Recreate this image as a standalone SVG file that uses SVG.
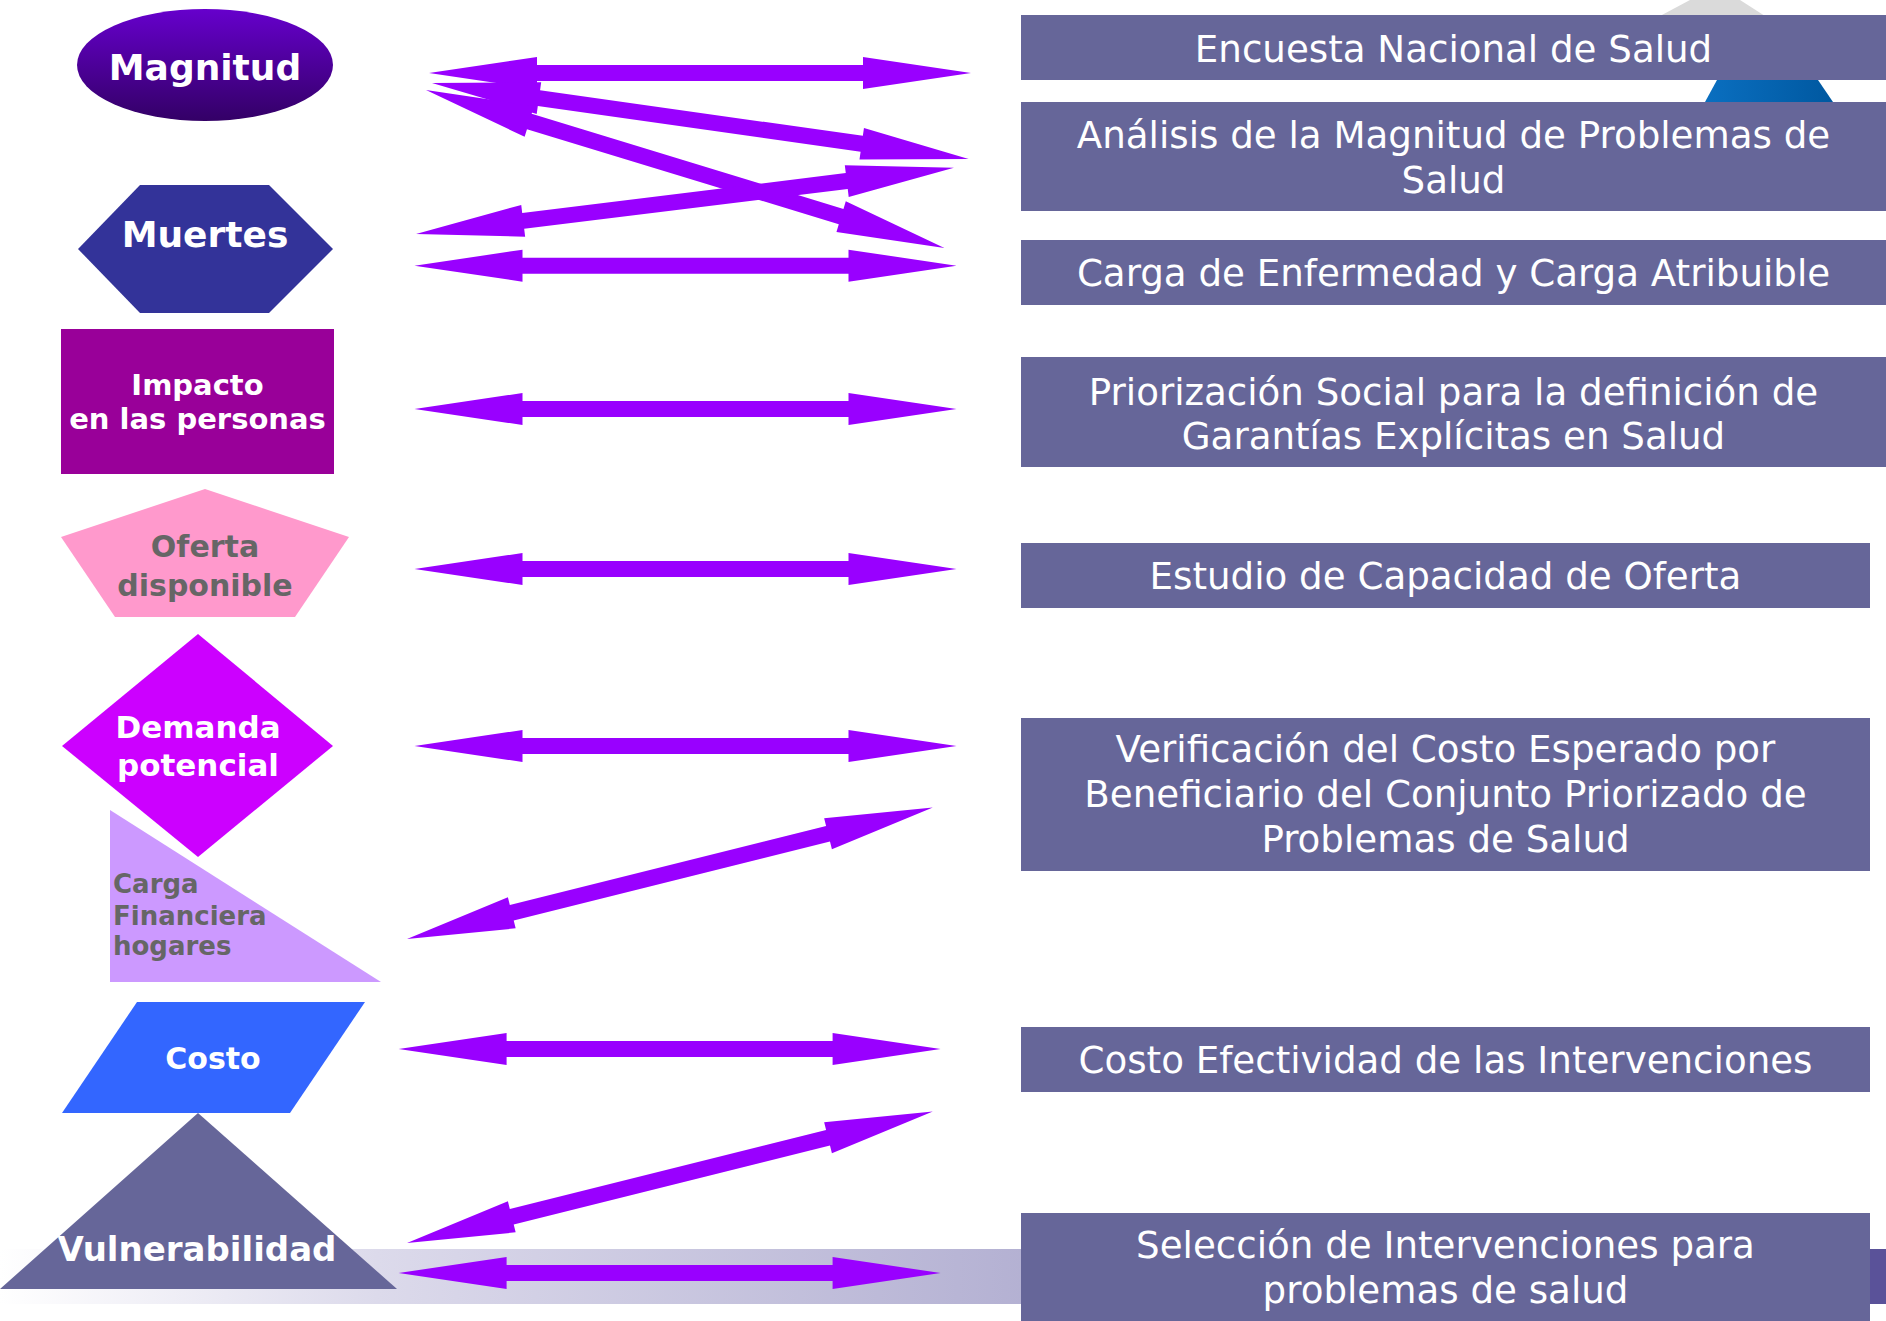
<svg xmlns="http://www.w3.org/2000/svg" xmlns:xlink="http://www.w3.org/1999/xlink" width="1886" height="1321" viewBox="0 0 1886 1321">
<style>
.box{fill:#666699}
.bt{font-family:"DejaVu Sans","Verdana",sans-serif;font-size:37.2px;fill:#ffffff;text-anchor:middle}
.nt{font-family:"DejaVu Sans","Verdana",sans-serif;font-weight:bold;fill:#ffffff;text-anchor:middle}
.lt{font-family:"DejaVu Sans","Verdana",sans-serif;font-weight:bold;fill:#666666;text-anchor:start;font-size:26px}
.gt{fill:#666666}
.arrow{fill:#9900FF}
</style>
<defs>
<linearGradient id="ellg" x1="0" y1="0" x2="0" y2="1">
<stop offset="0" stop-color="#6600CC"/>
<stop offset="1" stop-color="#330066"/>
</linearGradient>
<linearGradient id="band" x1="0" y1="0" x2="1" y2="0">
<stop offset="0" stop-color="#FFFFFF"/>
<stop offset="0.2" stop-color="#DCDAEB"/>
<stop offset="0.55" stop-color="#B3B0D2"/>
<stop offset="1" stop-color="#8A84B8"/>
</linearGradient>
<linearGradient id="logoB" x1="0" y1="0" x2="1" y2="0">
<stop offset="0" stop-color="#0A6FC0"/>
<stop offset="1" stop-color="#0058A0"/>
</linearGradient>
<path id="arr" d="M0,0 L108,-16 L108,-8 L434,-8 L434,-16 L542,0 L434,16 L434,8 L108,8 L108,16 Z"/>
</defs>
<rect width="1886" height="1321" fill="#ffffff"/>
<g id="background">
<polygon points="1690,0 1740,0 1765,16 1660,16" fill="#DADADA"/>
<polygon points="1717,80 1818,80 1833,102 1705,102" fill="url(#logoB)"/>
<rect x="0" y="1249" width="1886" height="55" fill="url(#band)"/>
<rect x="1870" y="1249" width="16" height="55" fill="#5A5299"/>
</g>
<g id="connectors">
<use xlink:href="#arr" class="arrow" transform="translate(429,73)"/>
<use xlink:href="#arr" class="arrow" transform="translate(432,83) rotate(8.05)"/>
<use xlink:href="#arr" class="arrow" transform="translate(426,90) rotate(16.96)"/>
<use xlink:href="#arr" class="arrow" transform="translate(416,234) rotate(-7.01)"/>
<use xlink:href="#arr" class="arrow" transform="translate(414.5,265.7)"/>
<use xlink:href="#arr" class="arrow" transform="translate(414.5,409)"/>
<use xlink:href="#arr" class="arrow" transform="translate(414.5,569)"/>
<use xlink:href="#arr" class="arrow" transform="translate(414.5,746)"/>
<use xlink:href="#arr" class="arrow" transform="translate(407,939) rotate(-14.04)"/>
<use xlink:href="#arr" class="arrow" transform="translate(398.6,1049)"/>
<use xlink:href="#arr" class="arrow" transform="translate(407,1243) rotate(-14.04)"/>
<use xlink:href="#arr" class="arrow" transform="translate(398.6,1273)"/>
</g>
<g id="magnitud">
<ellipse cx="205" cy="65" rx="128" ry="56" fill="url(#ellg)"/>
<text class="nt" x="205" y="80" font-size="36">Magnitud</text>
</g>
<g id="muertes">
<polygon points="140,185 269,185 333,249 269,313 140,313 78,249" fill="#333399"/>
<text class="nt" x="205" y="247" font-size="36">Muertes</text>
</g>
<g id="impacto">
<rect x="61" y="329" width="273" height="145" fill="#990099"/>
<text class="nt" x="197.5" y="395" font-size="29">Impacto</text>
<text class="nt" x="197.5" y="429" font-size="29">en las personas</text>
</g>
<g id="oferta">
<polygon points="205,489 349,537 295,617 115,617 61,537" fill="#FF99CC"/>
<text class="nt gt" x="205" y="557" font-size="30">Oferta</text>
<text class="nt gt" x="205" y="596" font-size="30">disponible</text>
</g>
<g id="demanda">
<polygon points="198,634 333,746 198,857 62,746" fill="#CC00FF"/>
<text class="nt" x="198" y="738" font-size="31">Demanda</text>
<text class="nt" x="198" y="776" font-size="31">potencial</text>
</g>
<g id="carga-financiera">
<polygon points="110,810 381,982 110,982" fill="#CC99FF"/>
<text class="lt" x="113" y="893">Carga</text>
<text class="lt" x="113" y="925">Financiera</text>
<text class="lt" x="113" y="955">hogares</text>
</g>
<g id="costo">
<polygon points="137,1002 365,1002 290,1113 62,1113" fill="#3366FF"/>
<text class="nt" x="213" y="1069" font-size="30">Costo</text>
</g>
<g id="vulnerabilidad">
<polygon points="198,1113 397,1289 0,1289" fill="#666699"/>
<text class="nt" x="197" y="1261" font-size="34">Vulnerabilidad</text>
</g>
<g id="encuesta">
<rect class="box" x="1021" y="15" width="865" height="65"/>
<text class="bt" x="1453.5" y="62">Encuesta Nacional de Salud</text>
</g>
<g id="analisis">
<rect class="box" x="1021" y="102" width="865" height="109"/>
<text class="bt" x="1453.5" y="148">Análisis de la Magnitud de Problemas de</text>
<text class="bt" x="1453.5" y="193">Salud</text>
</g>
<g id="carga-enfermedad">
<rect class="box" x="1021" y="240" width="865" height="65"/>
<text class="bt" x="1453.5" y="286">Carga de Enfermedad y Carga Atribuible</text>
</g>
<g id="priorizacion">
<rect class="box" x="1021" y="357" width="865" height="110"/>
<text class="bt" x="1453.5" y="405">Priorización Social para la definición de</text>
<text class="bt" x="1453.5" y="449">Garantías Explícitas en Salud</text>
</g>
<g id="estudio">
<rect class="box" x="1021" y="543" width="849" height="65"/>
<text class="bt" x="1445.5" y="589">Estudio de Capacidad de Oferta</text>
</g>
<g id="verificacion">
<rect class="box" x="1021" y="718" width="849" height="153"/>
<text class="bt" x="1445.5" y="762">Verificación del Costo Esperado por</text>
<text class="bt" x="1445.5" y="807">Beneficiario del Conjunto Priorizado de</text>
<text class="bt" x="1445.5" y="852">Problemas de Salud</text>
</g>
<g id="costo-efectividad">
<rect class="box" x="1021" y="1027" width="849" height="65"/>
<text class="bt" x="1445.5" y="1073">Costo Efectividad de las Intervenciones</text>
</g>
<g id="seleccion">
<rect class="box" x="1021" y="1213" width="849" height="108"/>
<text class="bt" x="1445.5" y="1258">Selección de Intervenciones para</text>
<text class="bt" x="1445.5" y="1303">problemas de salud</text>
</g>
</svg>
